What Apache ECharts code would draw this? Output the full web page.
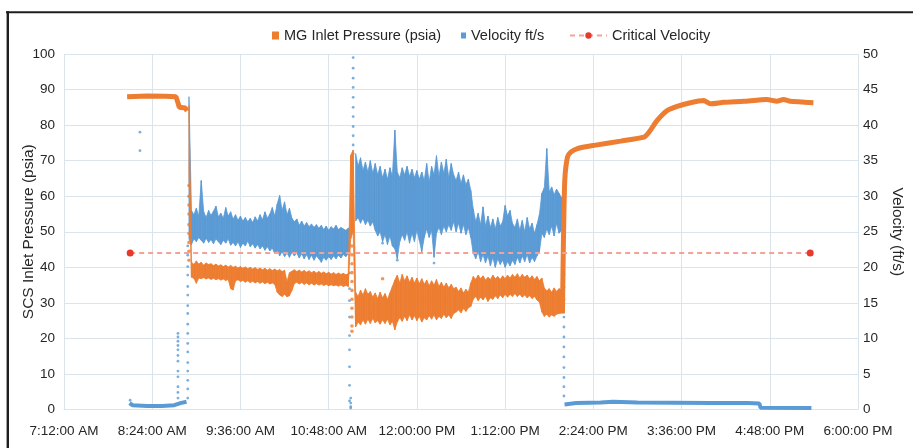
<!DOCTYPE html>
<html>
<head>
<meta charset="utf-8">
<script src="https://cdn.jsdelivr.net/npm/echarts@6/dist/echarts.min.js"></script>
<style>
html,body{margin:0;padding:0;background:#fff;}
#chart{width:913px;height:448px;}
</style>
</head>
<body>
<div id="chart"></div>
<script>
// ---------- DATA (time in minutes after midnight) ----------
const xTickLabels = ['7:12:00 AM','8:24:00 AM','9:36:00 AM','10:48:00 AM','12:00:00 PM','1:12:00 PM','2:24:00 PM','3:36:00 PM','4:48:00 PM','6:00:00 PM'];

// Noisy bands: one sample every 2 minutes starting at 534 (8:54)
const bandStart = 534;
const bandStep = 2;

const velHi = [44.0,
  28.0,27.4,28.3,27.2,32.2,27.8,27.0,28.0,27.3,27.9,
  28.6,27.1,27.6,26.9,28.4,27.2,27.8,26.8,27.4,26.6,
  27.2,26.5,27.0,26.4,26.9,26.3,27.1,26.5,27.4,26.7,
  27.8,26.9,27.5,28.4,27.2,28.9,30.1,28.0,29.2,27.4,
  28.3,26.9,26.4,26.8,25.9,26.5,25.8,26.3,25.7,26.1,
  25.6,26.0,25.5,25.9,25.3,25.8,25.2,25.7,25.4,25.9,
  25.3,25.6,25.4,25.2,25.5,
  null,null,
  36.0,34.2,35.4,33.6,34.8,33.4,35.0,33.2,34.6,33.0,
  34.2,32.6,33.8,32.4,34.0,32.8,39.3,33.4,32.6,34.0,
  33.0,34.2,32.8,33.8,32.6,33.6,32.4,33.4,32.2,34.6,
  32.0,34.2,33.0,35.7,32.8,34.8,33.2,35.2,32.6,34.6,
  33.0,32.2,33.4,31.8,33.0,31.6,32.4,30.8,
  28.2,26.4,27.6,26.0,28.5,25.8,27.2,25.6,26.8,25.4,
  27.0,25.8,26.4,28.7,27.2,28.0,26.2,25.6,26.8,25.2,
  26.6,25.0,27.0,25.4,26.2,24.8,26.0,27.4,30.4,31.2,
  36.7,30.6,31.3,30.2,31.0,30.4,29.8];
const velLo = [24.0,
  23.2,24.0,23.6,24.2,23.8,23.4,24.1,23.5,23.9,23.3,
  24.0,23.6,23.2,23.8,23.4,24.0,23.1,23.5,23.0,23.6,
  22.8,23.4,23.0,23.7,22.9,23.3,22.7,23.2,22.6,23.0,
  22.4,22.9,22.3,22.7,21.9,22.4,21.6,22.2,21.5,22.0,
  21.4,22.1,21.6,22.0,21.3,21.9,21.2,21.8,21.1,21.7,
  21.0,21.6,21.2,20.7,21.4,21.0,21.5,21.1,21.6,21.2,
  21.7,21.3,21.8,21.5,21.9,
  null,null,
  26.5,27.0,26.2,26.9,26.0,26.6,25.8,26.4,25.2,24.4,
  25.0,23.6,24.6,23.2,24.4,23.0,22.6,21.2,23.6,24.6,
  23.8,25.0,23.4,24.8,23.6,25.2,23.8,22.2,24.2,25.4,
  24.2,25.2,21.4,24.8,25.6,24.6,25.8,25.0,26.0,25.2,
  26.4,25.0,26.2,24.8,26.0,24.6,25.6,24.2,
  22.0,21.2,22.2,20.8,21.8,20.6,21.6,20.2,21.4,20.0,
  21.2,20.4,21.0,20.0,20.8,20.2,21.0,20.4,21.4,20.6,
  21.6,20.8,21.8,20.6,21.4,20.8,21.6,22.2,24.8,24.2,
  25.4,24.6,25.8,24.4,26.2,24.8,25.2];

const pressHi = [85.5,
  41.5,40.8,41.8,40.9,41.4,40.6,41.2,40.8,41.0,40.5,
  40.9,40.4,40.7,40.2,40.6,40.1,40.5,40.0,40.3,39.8,
  40.2,39.7,40.1,39.6,40.0,39.5,39.9,39.4,39.8,39.3,
  39.7,39.2,39.6,39.1,39.5,39.0,39.4,38.8,39.2,36.0,
  38.5,38.9,39.3,38.8,39.2,38.7,39.1,38.6,39.0,38.5,
  38.9,38.4,38.8,38.3,38.7,38.2,38.6,38.1,38.5,38.0,
  38.4,38.0,38.3,37.9,38.2,
  71.5,73.0,
  33.0,31.8,33.6,32.2,34.0,32.4,33.2,31.6,32.8,31.2,
  33.0,31.4,32.6,31.0,32.8,34.6,36.4,37.8,35.6,38.0,
  36.2,37.6,35.8,37.2,35.6,37.0,35.4,36.8,35.2,36.4,
  34.8,36.2,35.0,36.6,34.6,35.8,34.4,35.6,34.2,35.2,
  34.0,34.4,33.2,34.2,32.8,33.8,33.0,35.6,
  37.4,36.6,37.8,36.8,37.6,36.4,37.2,36.6,37.8,36.8,
  37.4,36.6,37.6,36.8,37.8,37.0,38.0,37.2,38.2,37.0,
  38.0,37.2,37.8,36.8,37.6,36.6,37.4,36.2,37.0,34.2,
  33.4,34.0,33.0,34.2,33.2,34.0,33.6];
const pressLo = [66.0,
  37.2,36.9,35.5,37.0,36.8,37.1,36.7,37.0,36.6,36.9,
  36.5,36.8,36.4,36.7,36.3,36.6,34.0,33.6,36.2,36.5,
  36.0,36.3,35.8,36.2,35.7,36.1,35.6,36.0,35.5,35.9,
  35.4,35.8,35.3,35.6,35.2,33.0,32.2,31.8,32.4,31.7,
  32.0,33.5,35.4,35.8,35.3,35.7,35.2,35.6,35.1,35.5,
  35.0,35.4,35.0,35.3,34.9,35.2,34.8,35.1,34.8,35.0,
  34.7,35.0,34.6,34.9,34.6,
  48.0,50.0,
  23.2,24.6,23.8,25.2,24.0,25.4,24.2,25.6,24.4,25.0,
  24.0,25.2,24.2,25.4,23.8,24.8,22.4,24.6,25.8,24.8,
  26.2,25.0,26.6,25.2,26.4,25.0,26.2,24.6,25.8,25.2,
  26.4,25.4,26.6,25.2,26.2,25.6,26.8,25.8,26.6,25.6,
  27.0,27.4,28.0,27.2,28.4,27.6,28.6,29.0,
  31.0,31.8,30.6,31.6,30.8,31.8,30.4,31.4,31.0,32.0,
  31.2,32.2,31.4,32.4,31.6,32.4,31.8,32.6,31.8,32.4,
  31.6,32.2,31.4,32.0,31.2,31.8,30.8,30.2,27.4,26.2,
  26.8,26.0,26.6,26.2,26.8,27.0,27.2];

// Sparse points (outliers and transitions)
const velDotTimes = [486, 494, 525, 533, 665, 666, 668, 692, 704, 734, 840];
const velDotValues = [
  [1.3],
  [39.0, 36.4],
  [10.7, 10.2, 9.6, 9.0, 8.4, 7.6, 6.8, 5.4, 4.6, 3.2, 2.4, 1.6],
  [1.6, 2.9, 4.1, 5.4, 6.6, 8.1, 9.3, 10.7, 12.0, 13.5, 14.6, 16.1, 17.3, 18.9, 20.1, 21.7, 23.0],
  [19.2, 17.0, 15.3, 13.0, 10.4, 8.4, 6.0, 3.4, 1.2],
  [0.4, 0.9, 1.6, 0.2],
  [36.0, 37.2, 38.5, 39.8, 41.2, 42.5, 43.9, 45.3, 46.6, 48.0, 49.5],
  [23.4],
  [21.0],
  [20.6],
  [19.0, 17.2, 15.5, 13.0, 11.6, 10.2, 8.8, 7.4, 5.9, 4.5, 3.2, 1.9]
];
const pressDotTimes = [534, 667, 692];
const pressDotValues = [
  [63, 60, 57.5, 55, 52, 49.5, 47, 44.5, 42],
  [46, 43.5, 41, 38.5, 36, 33.5, 31, 28.5, 26, 23.5, 22],
  [36.8]
];

// Smooth parts
const pressPreT = [483.5, 500, 515, 523.4, 525, 526.1, 531, 532.5];
const pressPreV = [88.0, 88.2, 88.1, 88.0, 86.3, 85.0, 84.8, 84.0];
const pressPostT = [838.8, 839.6, 840.7, 842.9, 845.6, 851, 864.6, 886.3, 905.3, 909.4, 916.1, 924.3, 932.4, 943.2, 954.1, 959.5, 970.4, 986.7, 1005.6, 1013.8, 1019.2, 1024.6, 1043.6];
const pressPostV = [27.0, 47.6, 64.5, 71.0, 72.4, 73.4, 74.3, 75.5, 76.6, 78.0, 81.3, 84.1, 85.3, 86.3, 86.9, 86.0, 86.4, 86.7, 87.2, 86.7, 87.2, 86.7, 86.3];
const velPreT = [485.5, 488, 500, 512, 522, 527, 532];
const velPreV = [0.9, 0.6, 0.5, 0.5, 0.6, 0.9, 1.1];
const velPostT = [840.5, 850, 870, 880, 900, 930, 960, 990, 999.5, 1000.5, 1042];
const velPostV = [0.7, 0.9, 1.0, 1.1, 1.0, 0.95, 0.9, 0.9, 0.85, 0.25, 0.2];
const critT = [486, 1041];
const critV = [22, 22];

// ---------- BUILD ----------
const ORANGE = '#ED7D31';
const BLUE = '#5B9BD5';
const FONT = "'Liberation Sans', Arial, Helvetica, sans-serif";
const TXT = '#262626';
const GRID = '#dbe4eb';

function zip(t, v) { return t.map((x, i) => [x, v[i]]); }
function bandData(lo, hi) {
  return lo.map((l, i) => [bandStart + i * bandStep, l, hi[i]]);
}
function dotData(times, vals) {
  const out = [];
  times.forEach((t, i) => vals[i].forEach(v => out.push([t, v])));
  return out;
}
function ok(v) { return v != null && !isNaN(v); }
// Each sample is joined to the next one by a filled quadrilateral (lo..hi band)
function bandRender(color) {
  return function (params, api) {
    const i = params.dataIndexInside;
    const n = params.dataInsideLength;
    const t0 = api.value(0, i), lo0 = api.value(1, i), hi0 = api.value(2, i);
    if (!ok(lo0) || !ok(hi0)) return;
    let t1, lo1, hi1;
    if (i + 1 < n && ok(api.value(1, i + 1)) && ok(api.value(2, i + 1))) {
      t1 = api.value(0, i + 1); lo1 = api.value(1, i + 1); hi1 = api.value(2, i + 1);
    } else {
      t1 = t0 + bandStep * 0.5; lo1 = lo0; hi1 = hi0;
    }
    const pts = [api.coord([t0, hi0]), api.coord([t1, hi1]), api.coord([t1, lo1]), api.coord([t0, lo0])];
    return {
      type: 'polygon',
      shape: { points: pts },
      style: { fill: color, stroke: color, lineWidth: 0.8 }
    };
  };
}

const P = 'MG Inlet Pressure (psia)';
const V = 'Velocity ft/s';
const C = 'Critical Velocity';

const chart = echarts.init(document.getElementById('chart'), null, { renderer: 'canvas' });
chart.setOption({
  animation: false,
  backgroundColor: '#ffffff',
  textStyle: { fontFamily: FONT },
  grid: { left: 64, right: 52, top: 54, bottom: 38.5 },
  legend: [
    { left: 272, top: 28, padding: 0, itemWidth: 7, itemHeight: 8,
      textStyle: { fontFamily: FONT, fontSize: 14.5, color: TXT },
      data: [{ name: P, icon: 'rect', itemStyle: { color: ORANGE } }] },
    { left: 461, top: 28, padding: 0, itemWidth: 5, itemHeight: 6,
      textStyle: { fontFamily: FONT, fontSize: 14.5, color: TXT },
      data: [{ name: V, icon: 'rect', itemStyle: { color: BLUE } }] },
    { left: 569, top: 28, padding: 0, itemWidth: 37, itemHeight: 8,
      textStyle: { fontFamily: FONT, fontSize: 14.5, color: TXT },
      data: [{ name: C }] }
  ],
  xAxis: {
    type: 'value', min: 432, max: 1080, interval: 72,
    axisLine: { show: true, lineStyle: { color: GRID } },
    axisTick: { show: false },
    splitLine: { show: true, lineStyle: { color: GRID, width: 1 } },
    axisLabel: {
      margin: 15, fontSize: 13.5, color: TXT, fontFamily: FONT,
      showMinLabel: true, showMaxLabel: true,
      formatter: v => xTickLabels[Math.round((v - 432) / 72)]
    }
  },
  yAxis: [
    { type: 'value', min: 0, max: 100, interval: 10, position: 'left',
      name: 'SCS Inlet Pressure (psia)', nameLocation: 'middle', nameGap: 27, nameRotate: 90,
      nameMoveOverlap: false,
      nameTextStyle: { fontSize: 15.5, color: TXT, fontFamily: FONT },
      axisLine: { show: false }, axisTick: { show: false },
      splitLine: { show: true, lineStyle: { color: GRID, width: 1 } },
      axisLabel: { margin: 9, fontSize: 13.5, color: TXT, fontFamily: FONT } },
    { type: 'value', min: 0, max: 50, interval: 5, position: 'right',
      name: 'Velocity (ft/s)', nameLocation: 'middle', nameGap: 31, nameRotate: -90,
      nameMoveOverlap: false,
      nameTextStyle: { fontSize: 15.5, color: TXT, fontFamily: FONT },
      axisLine: { show: false }, axisTick: { show: false },
      splitLine: { show: false },
      axisLabel: { margin: 5, fontSize: 13.5, color: TXT, fontFamily: FONT } }
  ],
  series: [
    { name: V, type: 'custom', yAxisIndex: 1, renderItem: bandRender(BLUE),
      itemStyle: { color: BLUE }, encode: { x: 0, y: [1, 2] }, clip: true,
      data: bandData(velLo, velHi), z: 2 },
    { name: V, type: 'scatter', yAxisIndex: 1, symbol: 'circle', symbolSize: 2.8,
      itemStyle: { color: BLUE }, data: dotData(velDotTimes, velDotValues), z: 2 },
    { name: V, type: 'line', yAxisIndex: 1, showSymbol: false, symbol: 'none',
      lineStyle: { color: BLUE, width: 4 }, itemStyle: { color: BLUE },
      data: zip(velPreT, velPreV), z: 2 },
    { name: V, type: 'line', yAxisIndex: 1, showSymbol: false, symbol: 'none',
      lineStyle: { color: BLUE, width: 4 }, itemStyle: { color: BLUE },
      data: zip(velPostT, velPostV), z: 2 },
    { name: P, type: 'custom', yAxisIndex: 0, renderItem: bandRender(ORANGE),
      itemStyle: { color: ORANGE }, encode: { x: 0, y: [1, 2] }, clip: true,
      data: bandData(pressLo, pressHi), z: 3 },
    { name: P, type: 'scatter', yAxisIndex: 0, symbol: 'circle', symbolSize: 3.6,
      itemStyle: { color: ORANGE }, data: dotData(pressDotTimes, pressDotValues), z: 3 },
    { name: P, type: 'line', yAxisIndex: 0, showSymbol: false, symbol: 'none',
      lineStyle: { color: ORANGE, width: 5 }, itemStyle: { color: ORANGE },
      data: zip(pressPreT, pressPreV), z: 3 },
    { name: P, type: 'line', yAxisIndex: 0, showSymbol: false, symbol: 'none', smooth: 0.2,
      lineStyle: { color: ORANGE, width: 5 }, itemStyle: { color: ORANGE },
      data: zip(pressPostT, pressPostV), z: 3 },
    { name: C, type: 'line', yAxisIndex: 1, symbol: 'circle', symbolSize: 7, showSymbol: true,
      lineStyle: { color: '#f4a295', width: 2, type: [5, 4] },
      itemStyle: { color: '#e8392b' },
      data: zip(critT, critV), z: 4 }
  ],
  graphic: [
    { type: 'line', shape: { x1: 6, y1: 12.2, x2: 913, y2: 12.2 },
      style: { stroke: '#1e1e1e', lineWidth: 2 }, silent: true },
    { type: 'line', shape: { x1: 7.8, y1: 11.2, x2: 7.8, y2: 448 },
      style: { stroke: '#1e1e1e', lineWidth: 2.4 }, silent: true }
  ]
});
</script>
</body>
</html>
